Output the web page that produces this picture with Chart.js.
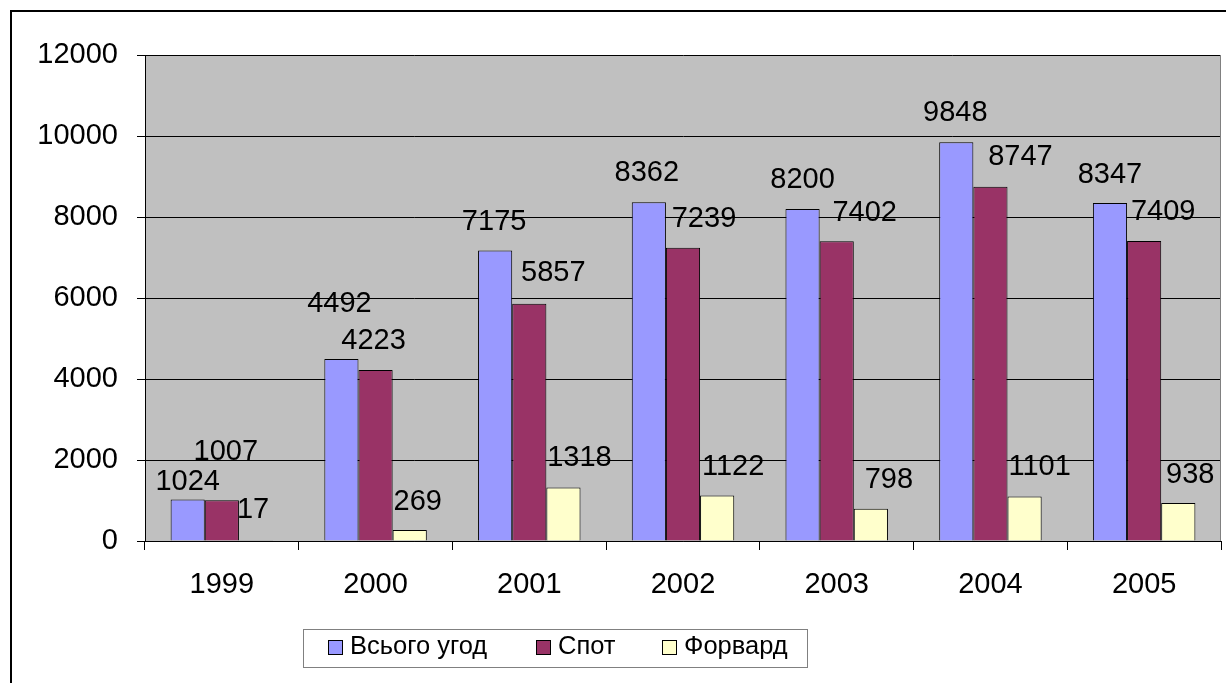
<!DOCTYPE html>
<html>
<head>
<meta charset="utf-8">
<script src="https://cdn.jsdelivr.net/npm/chart.js@4/dist/chart.umd.min.js"></script>
<style>
  html, body { margin: 0; padding: 0; background: #fff; }
  canvas { display: block; }
</style>
</head>
<body>
<canvas id="dealsChart" width="1226" height="683"></canvas>
<script>
const years = ['1999', '2000', '2001', '2002', '2003', '2004', '2005'];
const totalDeals = [1024, 4492, 7175, 8362, 8200, 9848, 8347];
const spotDeals = [1007, 4223, 5857, 7239, 7402, 8747, 7409];
const forwardDeals = [17, 269, 1318, 1122, 798, 1101, 938];
const seriesNames = ['Всього угод', 'Спот', 'Форвард'];
const yTicks = [0, 2000, 4000, 6000, 8000, 10000, 12000];

// label nudges [dx, lift above bar top], as in the original Excel layout
const labelNudges = [
    [[0, 18], [-2, 55], [-1, 28], [-2, 29], [0, 29], [-1, 29], [0, 28]],
    [[4, 48], [-2, 29], [24, 31], [21, 29], [28, 28], [30, 30], [19, 29]],
    [[-3, 30], [8, 28], [16, 30], [16, 29], [18, 29], [15, 29], [12, 28]]
];

const FONT = '"Liberation Sans", Arial, sans-serif';
const FONT_SIZE = 29;
const LEGEND_FONT_SIZE = 25.5;

// grey plot area, outer frame and right border of the plot
const backdrop = {
    id: 'backdrop',
    beforeDraw(chart) {
        const { ctx, chartArea: a } = chart;
        ctx.save();
        ctx.fillStyle = '#C0C0C0';
        ctx.fillRect(a.left, a.top, a.right - a.left, a.bottom - a.top);
        ctx.strokeStyle = '#000';
        ctx.lineWidth = 2;
        ctx.beginPath();
        ctx.moveTo(11, 700);
        ctx.lineTo(11, 11);
        ctx.lineTo(1300, 11);
        ctx.stroke();
        ctx.restore();
    },
    afterDatasetsDraw(chart) {
        const { ctx, chartArea: a } = chart;
        ctx.save();
        ctx.strokeStyle = '#808080';
        ctx.lineWidth = 1;
        ctx.beginPath();
        ctx.moveTo(a.right - 0.5, a.top);
        ctx.lineTo(a.right - 0.5, a.bottom);
        ctx.stroke();
        ctx.restore();
    }
};

// value labels above each bar
const valueLabels = {
    id: 'valueLabels',
    afterDatasetsDraw(chart) {
        const ctx = chart.ctx;
        ctx.save();
        ctx.font = FONT_SIZE + 'px ' + FONT;
        ctx.fillStyle = '#000';
        ctx.textAlign = 'center';
        ctx.textBaseline = 'middle';
        chart.data.datasets.forEach((ds, d) => {
            chart.getDatasetMeta(d).data.forEach((bar, i) => {
                const n = labelNudges[d][i];
                ctx.fillText(String(ds.data[i]), bar.x + n[0], bar.y - n[1]);
            });
        });
        ctx.restore();
    }
};

// Excel-style boxed legend under the axis
const boxLegend = {
    id: 'boxLegend',
    afterDraw(chart) {
        const ctx = chart.ctx;
        const itemX = [328, 536, 662];
        ctx.save();
        ctx.strokeStyle = '#808080';
        ctx.lineWidth = 1;
        ctx.strokeRect(303.5, 629.5, 504, 38);
        ctx.font = LEGEND_FONT_SIZE + 'px ' + FONT;
        ctx.textBaseline = 'middle';
        ctx.textAlign = 'left';
        chart.data.datasets.forEach((ds, d) => {
            const x = itemX[d];
            ctx.fillStyle = ds.backgroundColor;
            ctx.fillRect(x, 640, 15, 15);
            ctx.strokeStyle = '#000';
            ctx.strokeRect(x + 0.5, 640.5, 14, 14);
            ctx.fillStyle = '#000';
            ctx.fillText(ds.label, x + 22, 647);
        });
        ctx.restore();
    }
};

try {
    const ctx = document.getElementById('dealsChart').getContext('2d');
    new Chart(ctx, {
        type: 'bar',
        data: {
            labels: years,
            datasets: [
                { label: seriesNames[0], data: totalDeals, backgroundColor: '#9999FF' },
                { label: seriesNames[1], data: spotDeals, backgroundColor: '#993366' },
                { label: seriesNames[2], data: forwardDeals, backgroundColor: '#FFFFCC' }
            ].map(ds => Object.assign(ds, {
                borderColor: '#000',
                borderWidth: 1,
                borderSkipped: 'bottom',
                categoryPercentage: 3 / 4.5,
                barPercentage: 1
            }))
        },
        options: {
            responsive: false,
            animation: false,
            events: [],
            layout: { padding: { left: 0, top: 55, right: 5, bottom: 0 } },
            plugins: {
                legend: { display: false },
                tooltip: { enabled: false }
            },
            scales: {
                x: {
                    offset: true,
                    grid: {
                        offset: true,
                        drawOnChartArea: false,
                        color: '#000',
                        tickLength: 9
                    },
                    border: { color: '#000', width: 1 },
                    ticks: {
                        color: '#000',
                        padding: 18,
                        font: { family: FONT, size: FONT_SIZE }
                    },
                    afterFit(scale) { scale.height = 142; }
                },
                y: {
                    min: 0,
                    max: 12000,
                    afterBuildTicks(scale) { scale.ticks = yTicks.map(v => ({ value: v })); },
                    grid: { color: '#000', tickLength: 8 },
                    border: { color: '#000', width: 1 },
                    ticks: {
                        color: '#000',
                        padding: 19,
                        font: { family: FONT, size: FONT_SIZE },
                        callback: value => String(value)
                    },
                    afterFit(scale) { scale.width = 145; }
                }
            }
        },
        plugins: [backdrop, valueLabels, boxLegend]
    });
} catch (error) {
    console.error('Error rendering chart:', error);
}
</script>
</body>
</html>
